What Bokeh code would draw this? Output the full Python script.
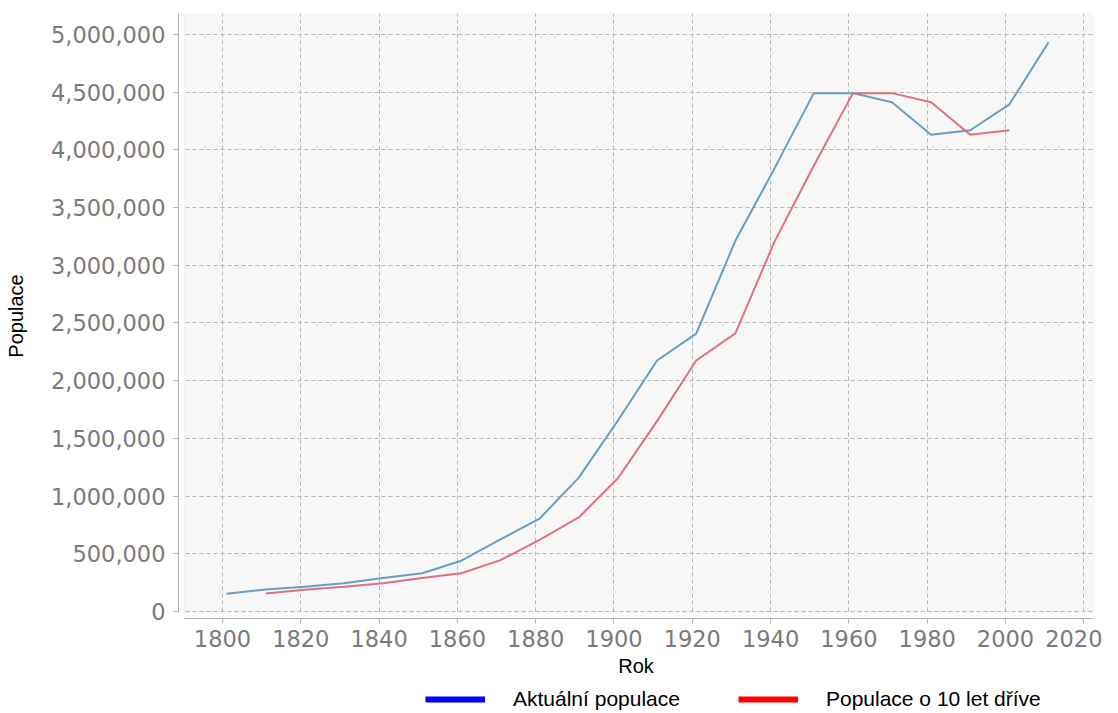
from bokeh.plotting import figure
from bokeh.layouts import column
from bokeh.models import (Range1d, FixedTicker, NumeralTickFormatter, BoxAnnotation,
                          Legend, LegendItem)
from bokeh.embed import file_html
from bokeh.resources import INLINE

# --- data ---
years_now = [1801, 1811, 1821, 1831, 1841, 1851, 1861, 1871, 1881, 1891, 1901,
             1911, 1921, 1931, 1941, 1951, 1961, 1971, 1981, 1991, 2001, 2011]
pop_now = [153000, 190000, 215000, 245000, 290000, 332000, 440000, 625000, 805000,
           1160000, 1655000, 2175000, 2408000, 3212000, 3840000, 4490000, 4492000,
           4413000, 4131000, 4170000, 4395000, 4933000]

years_prev = [1811, 1821, 1831, 1841, 1851, 1861, 1871, 1881, 1891, 1901,
              1911, 1921, 1931, 1941, 1951, 1961, 1971, 1981, 1991, 2001]
pop_prev = [155000, 188000, 215000, 245000, 290000, 332000, 445000, 620000, 815000,
            1155000, 1650000, 2175000, 2410000, 3205000, 3860000, 4490000, 4492000,
            4413000, 4131000, 4170000]

x_ticks = [1800, 1820, 1840, 1860, 1880, 1900, 1920, 1940, 1960, 1980, 2000, 2020]
y_ticks = [0, 500000, 1000000, 1500000, 2000000, 2500000, 3000000, 3500000,
           4000000, 4500000, 5000000]

label_now = "Aktuální populace"
label_prev = "Populace o 10 let dříve"
x_label = "Rok"
y_label = "Populace"

TICK_FONT = "DejaVu Sans"
TEXT_FONT = "Liberation Sans"

p = figure(width=1102, height=686, output_backend="svg", toolbar_location=None,
           x_range=Range1d(1788.76, 2022.48), y_range=Range1d(-60700, 5182000),
           min_border_left=178, min_border_top=13, min_border_right=9,
           min_border_bottom=68)
p.background_fill_color = "white"
p.border_fill_color = "white"
p.outline_line_color = None

# plot area (gray) with small gap to axes
area = BoxAnnotation(left=1790.3, bottom=-8700, fill_color="#f7f7f7", fill_alpha=1.0,
                     line_color="#d8d8d8", line_width=1, level="image")
p.add_layout(area)

# grid
for g in (p.xgrid, p.ygrid):
    g.grid_line_color = "#b5b5b5"
    g.grid_line_dash = "4 3"
    g.grid_line_width = 1

gap_left = BoxAnnotation(right=1790.2, fill_color="white", fill_alpha=1.0,
                         line_alpha=0, level="underlay")
gap_bottom = BoxAnnotation(top=-9500, fill_color="white", fill_alpha=1.0,
                           line_alpha=0, level="underlay")
p.add_layout(gap_left)
p.add_layout(gap_bottom)

# axes
p.xaxis.ticker = FixedTicker(ticks=x_ticks)
p.yaxis.ticker = FixedTicker(ticks=y_ticks)
p.yaxis.formatter = NumeralTickFormatter(format="0,0")
p.xaxis.bounds = (1790.3, 2022.48)
p.yaxis.bounds = (-8700, 5182000)
for ax in (p.xaxis, p.yaxis):
    ax.axis_line_color = "#b0b0b0"
    ax.major_tick_line_color = "#b0b0b0"
    ax.minor_tick_line_color = None
    ax.major_tick_out = 5
    ax.major_tick_in = 0
    ax.major_label_text_font = TICK_FONT
    ax.major_label_text_font_size = "22.5px"
    ax.major_label_text_color = "#7a7a7a"
    ax.axis_label_text_font = TEXT_FONT
    ax.axis_label_text_font_style = "normal"
    ax.axis_label_text_color = "black"
    ax.axis_label_text_font_size = "20px"
p.yaxis.major_label_standoff = 8
p.xaxis.major_label_standoff = 6
p.xaxis.axis_label = x_label
p.yaxis.axis_label = y_label
p.yaxis.axis_label_standoff = 21
p.xaxis.axis_label_standoff = 5

# data lines
r_now = p.line(years_now, pop_now, line_color="#6a9dc2", line_width=2)
r_prev = p.line(years_prev, pop_prev, line_color="#e0707f", line_width=2)

# legend strip below the chart (its frame is aligned with the chart's frame)
q = figure(width=1102, height=27, output_backend="svg", toolbar_location=None,
           x_range=Range1d(0, 1), y_range=Range1d(0, 1),
           x_axis_location=None, y_axis_location=None, min_border=0)
q.outline_line_color = None
q.grid.visible = False
q.background_fill_color = "white"
q.border_fill_color = "white"

# legend swatches: pure colours, thick; renderers hidden (only their swatches show)
d_now = q.line(years_now, pop_now, line_color="#0000ff", line_width=6, visible=False)
d_prev = q.line(years_prev, pop_prev, line_color="#ff0000", line_width=6, visible=False)

legend = Legend(items=[LegendItem(label=label_now, renderers=[d_now]),
                       LegendItem(label=label_prev, renderers=[d_prev])],
                orientation="horizontal", location=(247, 2))
legend.glyph_width = 60
legend.glyph_height = 20
legend.label_standoff = 28
legend.spacing = 58
legend.padding = 0
legend.margin = 0
legend.border_line_color = None
legend.background_fill_alpha = 0
legend.inactive_fill_alpha = 0
legend.label_text_font = TEXT_FONT
legend.label_text_font_size = "21px"
legend.label_text_color = "black"
q.add_layout(legend, "center")

layout = column(p, q, spacing=0)

open("out.html", "w").write(file_html(layout, INLINE))
